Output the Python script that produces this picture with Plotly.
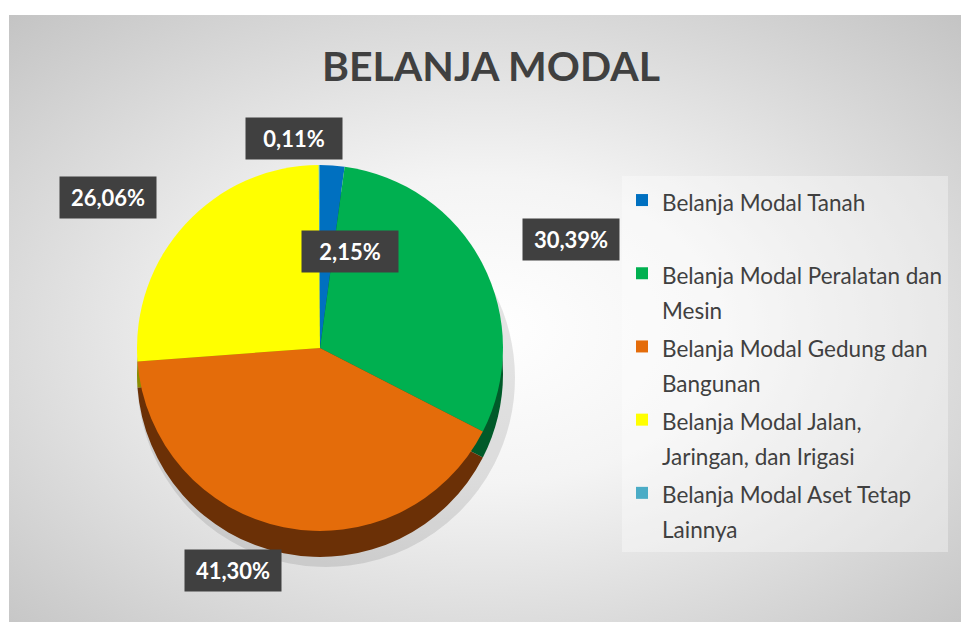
import base64
import plotly.graph_objects as go

# ---- data ----
categories = [
    "Belanja Modal Tanah",
    "Belanja Modal Peralatan dan Mesin",
    "Belanja Modal Gedung dan Bangunan",
    "Belanja Modal Jalan, Jaringan, dan Irigasi",
    "Belanja Modal Aset Tetap Lainnya",
]
legend_text = [
    "Belanja Modal Tanah<br> ",
    "Belanja Modal Peralatan dan<br>Mesin",
    "Belanja Modal Gedung dan<br>Bangunan",
    "Belanja Modal Jalan,<br>Jaringan, dan Irigasi",
    "Belanja Modal Aset Tetap<br>Lainnya",
]
values = [2.15, 30.39, 41.30, 26.06, 0.11]
title_text = "BELANJA MODAL"

# ---- style ----
W, H = 961, 622
face_colors = ["#0070c0", "#00b050", "#e46c0a", "#ffff00", "#4bacc6"]
side_colors = ["#003a66", "#005a29", "#6b3006", "#8c8c00", "#2a6f80"]
# label box centres in pixels (layout positions)
label_pos = [(350, 252), (571, 239), (233, 570), (108, 198), (294, 138)]

cx, cy, r, depth = 320, 348, 183, 26


def dom(cxp, cyp, rad):
    return dict(x=[(cxp - rad) / W, (cxp + rad) / W],
                y=[1 - (cyp + rad) / H, 1 - (cyp - rad) / H])


def legend_label(t):
    return "<span style='font-size:22.5px'>" + t.replace(
        "<br>", "</span><br><span style='font-size:22.5px'>") + "</span>"


fig = go.Figure()
# soft shadow
fig.add_trace(go.Pie(
    labels=legend_text, values=values, sort=False, direction="clockwise",
    rotation=0, textinfo="none", hoverinfo="skip", showlegend=False,
    marker=dict(colors=["rgba(0,0,0,0.10)"] * len(values), line=dict(width=0)),
    domain=dom(cx + 6, cy + depth + 4, r + 6),
))
# 3D side
fig.add_trace(go.Pie(
    labels=legend_text, values=values, sort=False, direction="clockwise",
    rotation=0, textinfo="none", hoverinfo="skip", showlegend=False,
    marker=dict(colors=side_colors, line=dict(width=0)),
    domain=dom(cx, cy + depth, r),
))
# face
fig.add_trace(go.Pie(
    labels=[legend_label(t) for t in legend_text], values=values, sort=False,
    direction="clockwise", rotation=0, textinfo="none", showlegend=True,
    marker=dict(colors=face_colors, line=dict(width=0)),
    domain=dom(cx, cy, r),
))

annotations = []
for v, (px, py) in zip(values, label_pos):
    annotations.append(dict(
        x=px / W, y=1 - py / H, xref="paper", yref="paper",
        text="<b>" + f"{v:.2f}".replace(".", ",") + "%</b>",
        showarrow=False, font=dict(family="Lato", size=22, color="white"),
        bgcolor="#404040", width=84, height=29, borderpad=6,
        xanchor="center", yanchor="middle",
    ))
# leader line for the smallest slice
annotations.append(dict(
    x=cx / W, y=1 - (cy - r) / H, xref="paper", yref="paper",
    text=" ", showarrow=True, arrowhead=0, arrowwidth=1.5,
    arrowcolor="#808080", ax=0, ay=-8, axref="pixel", ayref="pixel",
))

svg = (
    '<svg xmlns="http://www.w3.org/2000/svg" width="952" height="607">'
    '<defs><radialGradient id="g" cx="0.5" cy="0.52" r="0.72">'
    '<stop offset="0" stop-color="#ffffff"/>'
    '<stop offset="0.35" stop-color="#f4f4f4"/>'
    '<stop offset="1" stop-color="#c4c4c4"/>'
    '</radialGradient></defs>'
    '<rect width="952" height="607" fill="url(#g)"/></svg>'
)
src = "data:image/svg+xml;base64," + base64.b64encode(svg.encode()).decode()

fig.update_layout(
    width=W, height=H,
    margin=dict(l=0, r=0, t=0, b=0),
    paper_bgcolor="white",
    images=[dict(source=src, xref="paper", yref="paper",
                 x=9 / W, y=1 - 15 / H, sizex=(W - 9) / W, sizey=(H - 15) / H,
                 xanchor="left", yanchor="top", sizing="stretch", layer="below")],
    title=dict(text="<b>" + title_text + "</b>", x=491 / W, y=1 - 67 / H,
               xanchor="center", yanchor="middle",
               font=dict(family="Lato", size=41, color="#404040")),
    legend=dict(x=622 / W, y=1 - 176 / H, xanchor="left", yanchor="top",
                bgcolor="rgba(255,255,255,0.35)", valign="top",
                font=dict(family="Lato", size=27, color="#404040")),
    annotations=annotations,
    showlegend=True,
)

fig.write_html(
    "out.html",
    config={"displayModeBar": False},
    post_script="document.body.style.margin='0';document.body.style.overflow='hidden';",
)
